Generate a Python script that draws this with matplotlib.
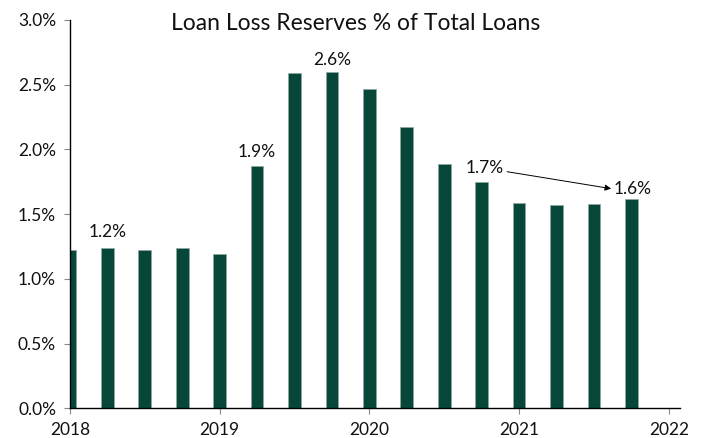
#!/usr/bin/env python

# Loan loss reserves as % of total loans, quarterly bars

import numpy as np
import matplotlib.pyplot as plt
from matplotlib.ticker import FuncFormatter

DPI = 100
BAR_COLOR = '#06473a'

# Quarter positions (fractional year) and values in %
quarters = [2018.0, 2018.25, 2018.5, 2018.75,
            2019.0, 2019.25, 2019.5, 2019.75,
            2020.0, 2020.25, 2020.5, 2020.75,
            2021.0, 2021.25, 2021.5, 2021.75]
reserves = [1.22, 1.24, 1.22, 1.24,
            1.19, 1.875, 2.59, 2.60,
            2.47, 2.17, 1.89, 1.745,
            1.59, 1.57, 1.575, 1.62]

# Bars that get a value label: index, y offset above bar, x shift
labelled = [1, 5, 7, 11, 15]
label_dy = [0.12, 0.105, 0.09, 0.115, 0.075]
label_dx = [0.0, 0.0, 0.0, 0.02, 0.01]

year_ticks = [2018, 2019, 2020, 2021, 2022]
pct_ticks = [0.0, 0.5, 1.0, 1.5, 2.0, 2.5, 3.0]

plt.rcParams['font.family'] = ['Lato', 'DejaVu Sans']

# Open figure
fig = plt.figure(figsize=(7.03, 4.38), dpi=DPI)
ax = fig.add_axes([70/703, 1-408.3/438, 610/703, (408.3-20)/438])

# Bars
ax.bar(quarters, reserves, width=0.085, color=BAR_COLOR,
       edgecolor='#8fa89f', linewidth=0.5, zorder=2)

# Value labels
for i, dy, dx in zip(labelled, label_dy, label_dx):
    ax.text(quarters[i] + dx, reserves[i] + dy, '%.1f%%' % reserves[i],
            ha='center', va='center', fontsize=12.5, color='#111111')

# Arrow between the 1.7% and 1.6% labels
a0, a1 = labelled[3], labelled[4]
ax.annotate('', xy=(quarters[a1] - 0.135, reserves[a1] + 0.077),
            xytext=(quarters[a0] + 0.17, reserves[a0] + 0.083),
            arrowprops=dict(arrowstyle='-|>', color='black', lw=0.7,
                            mutation_scale=9, shrinkA=0, shrinkB=0))

# Arrange plot
ax.set_xlim(2018, 2022.075)
ax.set_ylim(0, 3.0)
ax.set_xticks(year_ticks)
ax.set_xticklabels([str(y) for y in year_ticks])
ax.set_yticks(pct_ticks)
ax.yaxis.set_major_formatter(FuncFormatter(lambda v, p: '%.1f%%' % v))
ax.tick_params(axis='both', labelsize=12.5, colors='#888888',
               labelcolor='#111111', length=4, width=0.8)
ax.tick_params(axis='x', pad=6)
ax.tick_params(axis='y', pad=6)
for s in ['top', 'right']:
    ax.spines[s].set_visible(False)
for s in ['left', 'bottom']:
    ax.spines[s].set_color('black')
    ax.spines[s].set_linewidth(1.0)

fig.text(356/703, 1-24/438, 'Loan Loss Reserves % of Total Loans',
         ha='center', va='center', fontsize=16.5, color='#111111')

fig.savefig('out.png', dpi=DPI)
